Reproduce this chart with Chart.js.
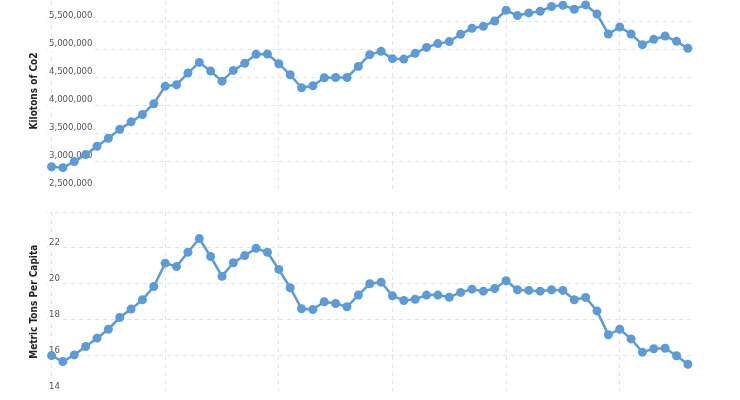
<!DOCTYPE html>
<html>
<head>
<meta charset="utf-8">
<script src="https://cdn.jsdelivr.net/npm/chart.js@4.4.0/dist/chart.umd.min.js"></script>
<style>
  html, body { margin: 0; padding: 0; background: #fff; overflow: hidden; }
  body { width: 740px; height: 400px; position: relative; }
  .box { position: absolute; left: 0; width: 740px; }
  #topBox { top: -7.5px; height: 196px; }
  #botBox { top: 211.7px; height: 179.5px; }
</style>
</head>
<body>
<div class="box" id="topBox"><canvas id="co2Chart"></canvas></div>
<div class="box" id="botBox"><canvas id="capitaChart"></canvas></div>
<script>
const years = [
  1960, 1961, 1962, 1963, 1964, 1965, 1966, 1967, 1968, 1969,
  1970, 1971, 1972, 1973, 1974, 1975, 1976, 1977, 1978, 1979,
  1980, 1981, 1982, 1983, 1984, 1985, 1986, 1987, 1988, 1989,
  1990, 1991, 1992, 1993, 1994, 1995, 1996, 1997, 1998, 1999,
  2000, 2001, 2002, 2003, 2004, 2005, 2006, 2007, 2008, 2009,
  2010, 2011, 2012, 2013, 2014, 2015, 2016
];

// kilotons of CO2
const kilotons = [
  2898000, 2881000, 2989000, 3114000, 3263000, 3406000, 3567000, 3699000, 3830000, 4022000,
  4337000, 4362000, 4570000, 4761000, 4605000, 4426000, 4618000, 4746000, 4905000, 4910000,
  4737000, 4540000, 4308000, 4344000, 4487000, 4492000, 4492000, 4689000, 4899000, 4958000,
  4827000, 4820000, 4922000, 5029000, 5096000, 5132000, 5262000, 5370000, 5405000, 5500000,
  5692000, 5597000, 5644000, 5674000, 5758000, 5781000, 5710000, 5787000, 5624000, 5268000,
  5393000, 5268000, 5078000, 5173000, 5232000, 5137000, 5012000
];

// metric tons per capita
const perCapita = [
  16.00, 15.67, 16.04, 16.51, 16.97, 17.47, 18.12, 18.59, 19.11, 19.85,
  21.15, 20.96, 21.76, 22.52, 21.52, 20.42, 21.17, 21.57, 21.98, 21.76,
  20.80, 19.78, 18.61, 18.57, 19.00, 18.90, 18.72, 19.37, 20.00, 20.09,
  19.33, 19.07, 19.14, 19.37, 19.37, 19.25, 19.52, 19.70, 19.59, 19.74,
  20.17, 19.67, 19.63, 19.59, 19.67, 19.63, 19.11, 19.24, 18.49, 17.16,
  17.47, 16.93, 16.19, 16.38, 16.41, 15.99, 15.52
];

const decadeTicks = [1960, 1970, 1980, 1990, 2000, 2010];
const co2Ticks = [2500000, 3000000, 3500000, 4000000, 4500000, 5000000, 5500000, 6000000];
const capitaTicks = [14, 16, 18, 20, 22, 24];

const lineColor = '#5b9bd8';
const gridColor = '#e3e3e3';
const fontFamily = '"DejaVu Sans Condensed", "DejaVu Sans", sans-serif';

function buildChart(canvasId, values, title, yMin, yMax, yTicks, fmt) {
  const ctx = document.getElementById(canvasId).getContext('2d');
  return new Chart(ctx, {
    type: 'line',
    data: {
      datasets: [{
        data: years.map((y, i) => ({ x: y, y: values[i] })),
        borderColor: lineColor,
        backgroundColor: lineColor,
        borderWidth: 2.5,
        pointRadius: 4.5,
        pointBorderWidth: 0,
        pointBackgroundColor: lineColor,
        tension: 0,
        fill: false,
        clip: 6
      }]
    },
    options: {
      responsive: true,
      maintainAspectRatio: false,
      animation: false,
      layout: { autoPadding: false, padding: { left: 24, right: 47, top: 0, bottom: 0 } },
      plugins: { legend: { display: false }, tooltip: { enabled: false } },
      scales: {
        x: {
          type: 'linear',
          min: 1959.6,
          max: 2016.45,
          afterBuildTicks: (axis) => { axis.ticks = decadeTicks.map(v => ({ value: v })); },
          afterFit: (axis) => { axis.height = 0; axis.paddingLeft = 0; axis.paddingRight = 0; },
          ticks: { display: false },
          grid: { color: gridColor, drawTicks: false, lineWidth: 1 },
          border: { display: false, dash: [4, 4] }
        },
        y: {
          min: yMin,
          max: yMax,
          afterBuildTicks: (axis) => { axis.ticks = yTicks.map(v => ({ value: v })); },
          afterFit: (axis) => { axis.width = 23; axis.paddingTop = 0; axis.paddingBottom = 0; },
          ticks: {
            mirror: true,
            padding: 2,
            labelOffset: -5,
            color: '#555',
            font: { family: fontFamily, size: 9.5 },
            showLabelBackdrop: true,
            backdropColor: '#ffffff',
            backdropPadding: 1,
            callback: fmt
          },
          grid: { color: gridColor, drawTicks: false, lineWidth: 1 },
          border: { display: false, dash: [4, 4] },
          title: {
            display: true,
            text: title,
            color: '#222',
            font: { family: fontFamily, size: 10, weight: 'bold' },
            padding: { top: 4, bottom: 7 }
          }
        }
      }
    }
  });
}

buildChart('co2Chart', kilotons, 'Kilotons of Co2', 2500000, 6000000, co2Ticks,
  (v) => v >= 6000000 ? '' : v.toLocaleString('en-US'));
buildChart('capitaChart', perCapita, 'Metric Tons Per Capita', 14, 24, capitaTicks,
  (v) => v >= 24 ? '' : String(v));
</script>
</body>
</html>
